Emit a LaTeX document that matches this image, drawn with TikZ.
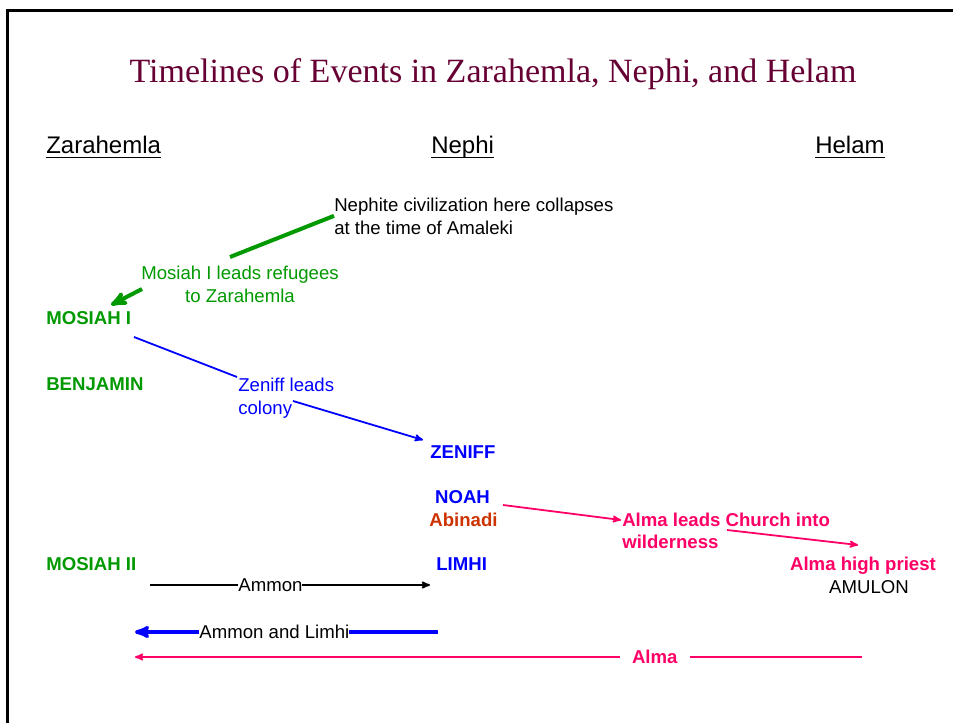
\documentclass[tikz,border=0pt]{standalone}
\usepackage{fontspec}
\setmainfont{Liberation Sans}
\newfontfamily\titlefont{Liberation Serif}
\usetikzlibrary{arrows}

\definecolor{titlered}{RGB}{102,0,51}
\definecolor{zgreen}{RGB}{0,153,0}
\definecolor{churchpink}{RGB}{255,0,102}
\definecolor{abinadi}{RGB}{204,51,0}

\begin{document}
\begin{tikzpicture}[x=1pt,y=-1pt,>=stealth',semithick,
                    font=\fontsize{18.6}{23}\selectfont]
  \tikzstyle{place}=[anchor=base west,inner sep=0pt,font=\fontsize{24}{28}\selectfont]
  \tikzstyle{king}=[anchor=base west,inner sep=0pt,font=\fontsize{18.6}{23}\selectfont\bfseries]
  \tikzstyle{event}=[inner sep=0pt]

  \useasboundingbox (0,0) rectangle (953,723);
  \draw[line width=3pt] (7,723) -- (7,10) -- (953,10);

  \node[anchor=base,text=titlered,font=\titlefont\fontsize{34}{40}\selectfont] (title) at (493,82)
       {Timelines of Events in Zarahemla, Nephi, and Helam};

  % the three places
  \node[place] (zar) at (46,153)  {Zarahemla};
  \node[place] (nep) at (431,153) {Nephi};
  \node[place] (hel) at (815,153) {Helam};
  \foreach \n in {zar,nep,hel}
    \draw[line width=1.8pt] ([yshift=-4.5pt]\n.base west) -- ([yshift=-4.5pt]\n.base east);

  % kings and people
  \node[king,text=zgreen] (mosiahI)  at (46,324) {MOSIAH I};
  \node[king,text=zgreen] (benjamin) at (46,390) {BENJAMIN};
  \node[king,text=zgreen] (mosiahII) at (46,570) {MOSIAH II};
  \node[king,text=blue]   (zeniff)   at (430,458) {ZENIFF};
  \node[king,text=blue,anchor=base] (noah) at (462.5,503) {NOAH};
  \node[king,text=abinadi,anchor=base] (abi) at (463.5,526) {Abinadi};
  \node[king,text=blue]   (limhi)    at (436,570) {LIMHI};
  \node[king,text=churchpink,anchor=base] (almahp) at (863,570) {Alma high priest};
  \node[event,anchor=base] (amulon)  at (869,593) {AMULON};

  % events (base = last line)
  \node[event,align=left,anchor=base west] (collapse) at (334,234)
       {Nephite civilization here collapses\\at the time of Amaleki};
  \node[event,align=center,anchor=base,text=zgreen] (refugees) at (240,302)
       {Mosiah I leads refugees\\to Zarahemla};
  \node[event,align=left,anchor=base west,text=blue] (colony) at (238,414)
       {Zeniff leads\\colony};
  \node[event,align=left,anchor=base west,text=churchpink,font=\fontsize{18.6}{22}\selectfont\bfseries] (church) at (622,548)
       {Alma leads Church into\\wilderness};

  \coordinate (g1) at (230,257);
  \coordinate (g2) at (142,289);
  \coordinate (g3) at (111,305);
  \coordinate (b1) at (134,337);
  \coordinate (b2) at (237,377);
  \coordinate (b3) at (293,401);
  \coordinate (b4) at (423,440);
  \coordinate (p1) at (503,505);
  \coordinate (p2) at (621,520);
  \coordinate (p3) at (727,530);
  \coordinate (p4) at (858,545);
  \coordinate (am1) at (150,585);
  \coordinate (am2) at (430,585);
  \coordinate (al1) at (438,632);
  \coordinate (al2) at (135,632);
  \coordinate (a1) at (862,657);
  \coordinate (a2) at (135,657);

  \path (g1) edge [-,zgreen,line width=4pt]  (collapse.west)
        (g2) edge [->,zgreen,line width=4pt] (g3)
        (b1) edge [-,blue,line width=1.8pt]  (b2)
        (b3) edge [->,blue,line width=1.8pt] (b4)
        (p1) edge [->,churchpink,line width=1.8pt] (p2)
        (p3) edge [->,churchpink,line width=1.8pt] (p4)
        (am1) edge [->,black,line width=1.8pt]
              node[pos=0.43,fill=white,inner sep=0pt] (ammon) {Ammon} (am2)
        (al1) edge [->,blue,line width=3.5pt]
              node[pos=0.54,fill=white,inner sep=0pt,text=black] (amlim) {Ammon and Limhi} (al2)
        (a1) edge [->,churchpink,line width=1.8pt]
              node[pos=0.285,fill=white,inner xsep=12pt,inner ysep=2pt,font=\fontsize{18.6}{23}\selectfont\bfseries] (alma) {Alma} (a2);
\end{tikzpicture}
\end{document}
